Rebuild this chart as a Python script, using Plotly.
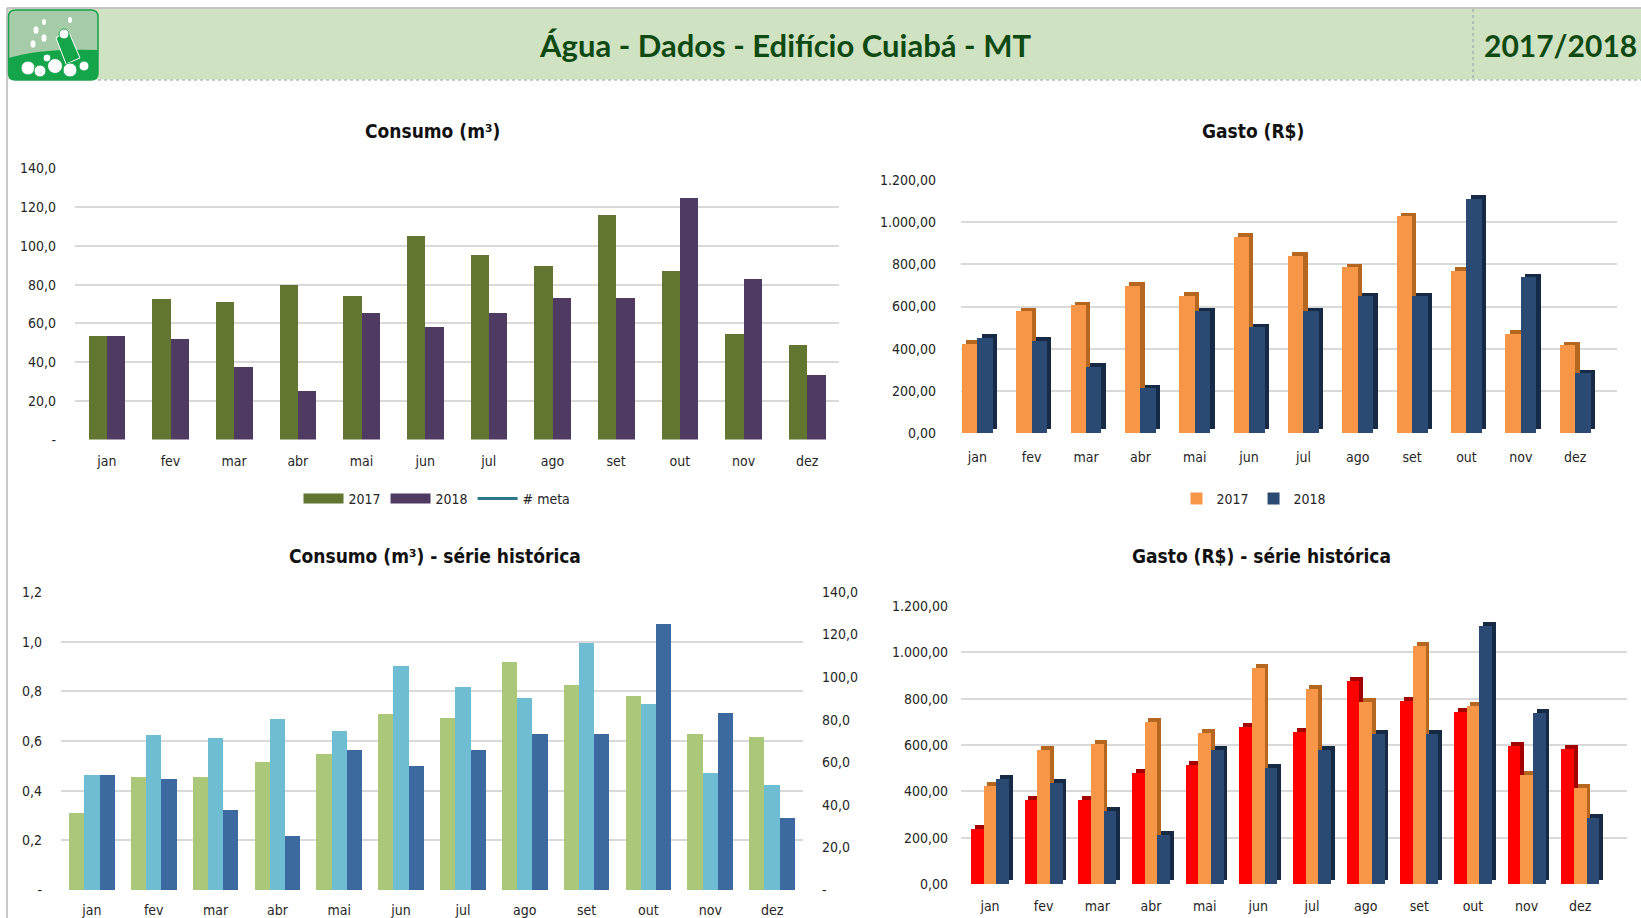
import plotly.graph_objects as go

W, H = 1641, 918

# ---------------- data ----------------
months = ["jan", "fev", "mar", "abr", "mai", "jun", "jul", "ago", "set", "out", "nov", "dez"]

consumo_2016 = [36, 53, 53, 60, 64, 82.5, 81, 107, 96.5, 91, 73.5, 72]
consumo_2017 = [54, 73, 71.3, 80.2, 74.5, 105.3, 95.5, 90, 116, 87.5, 54.8, 49.1]
consumo_2018 = [54, 52, 37.8, 25.6, 65.6, 58.2, 65.6, 73.5, 73.5, 125, 83.3, 33.8]
meta = [None, None, None, None, None, None, None, None, None, None, None, None]

gasto_2016 = [238, 361, 361, 481, 514, 676, 657, 875, 791, 741, 596, 582]
gasto_2017 = [423, 578, 605, 698, 650, 932, 841, 786, 1028, 770, 470, 416]
gasto_2018 = [452, 436, 314, 212, 578, 502, 578, 648, 648, 1112, 738, 284]

cons_tickvals = [0, 20, 40, 60, 80, 100, 120, 140]
cons_ticktext = ["-", "20,0", "40,0", "60,0", "80,0", "100,0", "120,0", "140,0"]
meta_tickvals = [0, 0.2, 0.4, 0.6, 0.8, 1.0, 1.2]
meta_ticktext = ["-", "0,2", "0,4", "0,6", "0,8", "1,0", "1,2"]
gasto_tickvals = [0, 200, 400, 600, 800, 1000, 1200]
gasto_ticktext = ["0,00", "200,00", "400,00", "600,00", "800,00", "1.000,00", "1.200,00"]

# ---------------- style ----------------
FONT = "Liberation Sans Narrow, DejaVu Sans Condensed, Arial Narrow, sans-serif"
HFONT = "Lato, Open Sans, Liberation Sans, sans-serif"
TXT = "#262626"
GRID = "#d9d9d9"

C_GREEN = "#627531"
C_PURPLE = "#4f3b62"
C_META = "#2b7a8c"
C_ORANGE = "#f79646"
C_ORANGE_D = "#b5661f"
C_NAVY = "#2a4a73"
C_NAVY_D = "#162a45"
C_RED = "#ff0000"
C_RED_D = "#a30000"
C_LGREEN = "#abc87a"
C_LBLUE = "#6fbdd2"
C_DBLUE = "#3c69a0"


def px(x):
    return x / W


def py(y):
    return 1 - y / H


fig = go.Figure()

# ---------- Chart 1: Consumo (m3) ----------
w1 = 0.288
fig.add_trace(go.Bar(x=months, y=consumo_2017, name="2017", marker_color=C_GREEN,
                     offset=-w1, width=w1, xaxis="x", yaxis="y", showlegend=False))
fig.add_trace(go.Bar(x=months, y=consumo_2018, name="2018", marker_color=C_PURPLE,
                     offset=0, width=w1, xaxis="x", yaxis="y", showlegend=False))
# legend entries (wide swatches like the original)
fig.add_trace(go.Scatter(x=[None], y=[None], mode="lines", name="2017",
                         line=dict(color=C_GREEN, width=10), xaxis="x", yaxis="y", legend="legend"))
fig.add_trace(go.Scatter(x=[None], y=[None], mode="lines", name="2018",
                         line=dict(color=C_PURPLE, width=10), xaxis="x", yaxis="y", legend="legend"))
fig.add_trace(go.Scatter(x=months, y=meta, mode="lines", name="# meta",
                         line=dict(color=C_META, width=3), xaxis="x", yaxis="y", legend="legend"))

# ---------- Chart 2: Gasto (R$) 3D-like ----------
w2 = 0.285
dx2 = 0.08
dy2 = 17
for vals, col, dcol, off, name in [(gasto_2017, C_ORANGE, C_ORANGE_D, -w2, "2017"),
                                   (gasto_2018, C_NAVY, C_NAVY_D, 0, "2018")]:
    fig.add_trace(go.Bar(x=months, y=vals, base=dy2, marker_color=dcol, offset=off + dx2, width=w2,
                         xaxis="x2", yaxis="y2", showlegend=False, hoverinfo="skip"))
    fig.add_trace(go.Bar(x=months, y=vals, marker_color=col, offset=off, width=w2, name=name,
                         xaxis="x2", yaxis="y2", legend="legend2"))

# ---------- Chart 3: Consumo série histórica ----------
w3 = 0.246
fig.add_trace(go.Scatter(x=months, y=meta, mode="lines", name="# meta",
                         line=dict(color=C_META, width=3), xaxis="x3", yaxis="y3", showlegend=False))
for vals, col, off, name in [(consumo_2016, C_LGREEN, -1.5 * w3, "2016"),
                             (consumo_2017, C_LBLUE, -0.5 * w3, "2017"),
                             (consumo_2018, C_DBLUE, 0.5 * w3, "2018")]:
    fig.add_trace(go.Bar(x=months, y=vals, marker_color=col, offset=off, width=w3, name=name,
                         xaxis="x3", yaxis="y4", showlegend=False))

# ---------- Chart 4: Gasto série histórica 3D-like ----------
w4 = 0.235
dx4 = 0.07
dy4 = 17
for vals, col, dcol, off, name in [(gasto_2016, C_RED, C_RED_D, -1.5 * w4, "2016"),
                                   (gasto_2017, C_ORANGE, C_ORANGE_D, -0.5 * w4, "2017"),
                                   (gasto_2018, C_NAVY, C_NAVY_D, 0.5 * w4, "2018")]:
    fig.add_trace(go.Bar(x=months, y=vals, base=dy4, marker_color=dcol, offset=off + dx4, width=w4,
                         xaxis="x4", yaxis="y5", showlegend=False, hoverinfo="skip"))
    fig.add_trace(go.Bar(x=months, y=vals, marker_color=col, offset=off, width=w4, name=name,
                         xaxis="x4", yaxis="y5", showlegend=False))

fig.update_traces(selector=dict(type="bar"), marker_line_width=0)

tickfont = dict(family=FONT, size=14, color=TXT)


def xax(domain, anchor, rng, standoff):
    return dict(domain=domain, anchor=anchor, type="category", range=rng, showgrid=False,
                showline=False, zeroline=False, ticks="", tickfont=tickfont,
                ticklabelstandoff=standoff, fixedrange=True, automargin=False)


def yax(domain, anchor, rng, tv, tt, standoff, grid=True, side="left", overlaying=None):
    d = dict(domain=domain, anchor=anchor, range=rng, tickvals=tv, ticktext=tt, showgrid=grid,
             gridcolor=GRID, gridwidth=1.5, zeroline=False, showline=False, ticks="",
             tickfont=tickfont, ticklabelstandoff=standoff, side=side, fixedrange=True,
             automargin=False)
    if overlaying:
        d["overlaying"] = overlaying
    return d


layout = dict(
    width=W, height=H, margin=dict(l=0, r=0, t=0, b=0, pad=0, autoexpand=False),
    paper_bgcolor="white", plot_bgcolor="rgba(0,0,0,0)",
    barmode="overlay", bargap=0,
    font=dict(family=FONT, size=14, color=TXT),
    xaxis=xax([px(75), px(839)], "y", [-0.5, 11.5], 11),
    yaxis=yax([py(439.6), py(168.5)], "x", [0, 140], cons_tickvals, cons_ticktext, 18),
    xaxis2=xax([px(961), px(1617)], "y2", [-0.3, 11.77], 14),
    yaxis2=yax([py(433), py(180)], "x2", [0, 1200], gasto_tickvals, gasto_ticktext, 24),
    xaxis3=xax([px(61), px(803)], "y3", [-0.5, 11.5], 10),
    yaxis3=yax([py(890), py(592)], "x3", [0, 1.2], meta_tickvals, meta_ticktext, 18),
    yaxis4=yax([py(890), py(592)], "x3", [0, 140], cons_tickvals, cons_ticktext, 18,
               grid=False, side="right", overlaying="y3"),
    xaxis4=xax([px(961), px(1627)], "y5", [-0.54, 11.87], 12),
    yaxis5=yax([py(884), py(606)], "x4", [0, 1200], gasto_tickvals, gasto_ticktext, 12),
    legend=dict(orientation="h", x=px(437), y=py(499), xanchor="center", yanchor="middle",
                font=dict(family=FONT, size=14, color=TXT), bgcolor="rgba(0,0,0,0)",
                itemwidth=40, tracegroupgap=0),
    legend2=dict(orientation="h", x=px(1254), y=py(499), xanchor="center", yanchor="middle",
                 font=dict(family=FONT, size=14, color=TXT), bgcolor="rgba(0,0,0,0)"),
)
fig.update_layout(**layout)

# ---------- titles ----------
tfont = dict(family=FONT, size=19, color="#111111", weight="bold")
for txt, x, y in [("Consumo (m³)", 432, 131), ("Gasto (R$)", 1253, 131),
                  ("Consumo (m³) - série histórica", 435, 556),
                  ("Gasto (R$) - série histórica", 1261, 556)]:
    fig.add_annotation(text=txt, x=px(x), y=py(y), xref="paper", yref="paper",
                       showarrow=False, xanchor="center", yanchor="middle", font=tfont)

# ---------- header ----------
shapes = []
shapes.append(dict(type="rect", xref="paper", yref="paper", x0=px(8), x1=1, y0=py(79.5), y1=py(9),
                   fillcolor="#cfe3c2", line=dict(width=0), layer="below"))
shapes.append(dict(type="line", xref="paper", yref="paper", x0=px(7), x1=1, y0=py(8), y1=py(8),
                   line=dict(color="#b0b0b0", width=1.5)))
shapes.append(dict(type="line", xref="paper", yref="paper", x0=px(7), x1=px(7), y0=py(8), y1=0,
                   line=dict(color="#b8b8b8", width=1.5)))
shapes.append(dict(type="line", xref="paper", yref="paper", x0=px(98), x1=1, y0=py(80), y1=py(80),
                   line=dict(color="#8e9ea6", width=1, dash="dot")))
shapes.append(dict(type="line", xref="paper", yref="paper", x0=px(1473), x1=px(1473), y0=py(9), y1=py(80),
                   line=dict(color="#8e9ea6", width=1, dash="dot")))


def P(x, y):
    return f"{px(x):.5f},{py(y):.5f}"


lx0, lx1, ly0, ly1, r = 8.5, 98, 10, 80, 7
logo_path = (f"M {P(lx0 + r, ly0)} L {P(lx1 - r, ly0)} Q {P(lx1, ly0)} {P(lx1, ly0 + r)} "
             f"L {P(lx1, ly1 - r)} Q {P(lx1, ly1)} {P(lx1 - r, ly1)} L {P(lx0 + r, ly1)} "
             f"Q {P(lx0, ly1)} {P(lx0, ly1 - r)} L {P(lx0, ly0 + r)} Q {P(lx0, ly0)} {P(lx0 + r, ly0)} Z")
shapes.append(dict(type="path", xref="paper", yref="paper", path=logo_path,
                   fillcolor="#a6cba8", line=dict(color="#1aa04c", width=1.5)))
wave = (f"M {P(lx0, 58)} Q {P(40, 48)} {P(lx1, 50)} L {P(lx1, ly1 - r)} Q {P(lx1, ly1)} {P(lx1 - r, ly1)} "
        f"L {P(lx0 + r, ly1)} Q {P(lx0, ly1)} {P(lx0, ly1 - r)} Z")
shapes.append(dict(type="path", xref="paper", yref="paper", path=wave,
                   fillcolor="#14a54b", line=dict(width=0)))
shapes.append(dict(type="path", xref="paper", yref="paper",
                   path=f"M {P(56, 38)} L {P(68, 30)} L {P(80, 58)} L {P(66, 64)} Z",
                   fillcolor="#14a54b", line=dict(color="white", width=1)))
for cx, cy, rr in [(28, 68, 7), (40, 71, 6), (55, 66, 7.5), (70, 70, 7), (84, 66, 5), (47, 58, 4),
                   (64, 34, 5)]:
    shapes.append(dict(type="circle", xref="paper", yref="paper", x0=px(cx - rr), x1=px(cx + rr),
                       y0=py(cy + rr), y1=py(cy - rr), fillcolor="white", line=dict(color="#14a54b", width=1)))
for cx, cy, rr in [(36, 30, 2.5), (44, 22, 2), (44, 38, 2.5), (33, 44, 2.5), (70, 20, 2)]:
    shapes.append(dict(type="circle", xref="paper", yref="paper", x0=px(cx - rr), x1=px(cx + rr),
                       y0=py(cy + rr * 1.5), y1=py(cy - rr * 1.5), fillcolor="white", line=dict(width=0)))

fig.update_layout(shapes=shapes)

fig.add_annotation(text="Água - Dados - Edifício Cuiabá - MT", x=px(785), y=py(45), xref="paper", yref="paper",
                   showarrow=False, xanchor="center", yanchor="middle",
                   font=dict(family=HFONT, size=31, color="#0f4a12", weight="bold"))
fig.add_annotation(text="2017/2018", x=px(1639), y=py(45), xref="paper", yref="paper",
                   showarrow=False, xanchor="right", yanchor="middle",
                   font=dict(family=HFONT, size=30, color="#0f4a12", weight="bold"))

post = ("document.documentElement.style.margin='0px';"
        "document.body.style.margin='0px';document.body.style.padding='0px';"
        "document.body.style.overflow='hidden';"
        "var gd=document.getElementById('{plot_id}');"
        "gd.style.position='fixed';gd.style.top='0px';gd.style.left='0px';")

fig.write_html("out.html", config={"displayModeBar": False}, post_script=post)
